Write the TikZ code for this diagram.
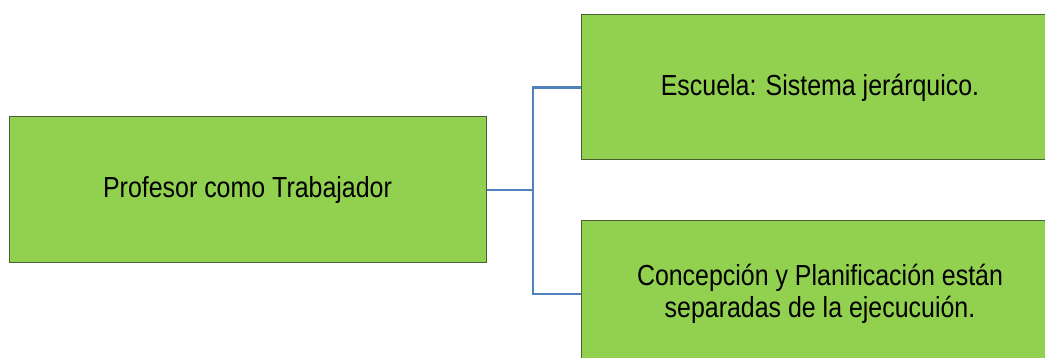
\documentclass[tikz,border=0pt]{standalone}
\usepackage{fontspec}
\setmainfont{Liberation Sans}[FakeStretch=0.86]
\definecolor{boxfill}{HTML}{92D050}
\definecolor{boxline}{HTML}{4E5F35}
\definecolor{linkblue}{HTML}{4F81BD}
\tikzset{
  card/.style={draw=boxline, line width=1pt, fill=boxfill, inner sep=0pt,
    minimum width=477pt, minimum height=146pt, align=center, text=black,
    font=\fontsize{29}{31.5}\selectfont},
  link/.style={draw=linkblue, line width=2.2pt}
}
\begin{document}
\begin{tikzpicture}[x=1pt,y=-1pt]
  \useasboundingbox (0,0) rectangle (1045,358);
  \clip (0,0) rectangle (1045,358);
  \fill[white] (0,0) rectangle (1045,358);
  % main box and its two branches
  \node[card] (worker) at (247.5,190) {Profesor como Trabajador};
  \node[card, minimum height=145pt] (school) at (820,87.5) {Escuela: Sistema jerárquico.};
  \node[card] (split) at (820,294) {Concepción y Planificación están\\separadas de la ejecucuión.};
  % elbow connectors
  \coordinate (fork) at (533,190);
  \draw[link] (worker.east) -- (fork);
  \draw[link] (fork) |- (school.west);
  \draw[link] (fork) |- (split.west);
\end{tikzpicture}
\end{document}
